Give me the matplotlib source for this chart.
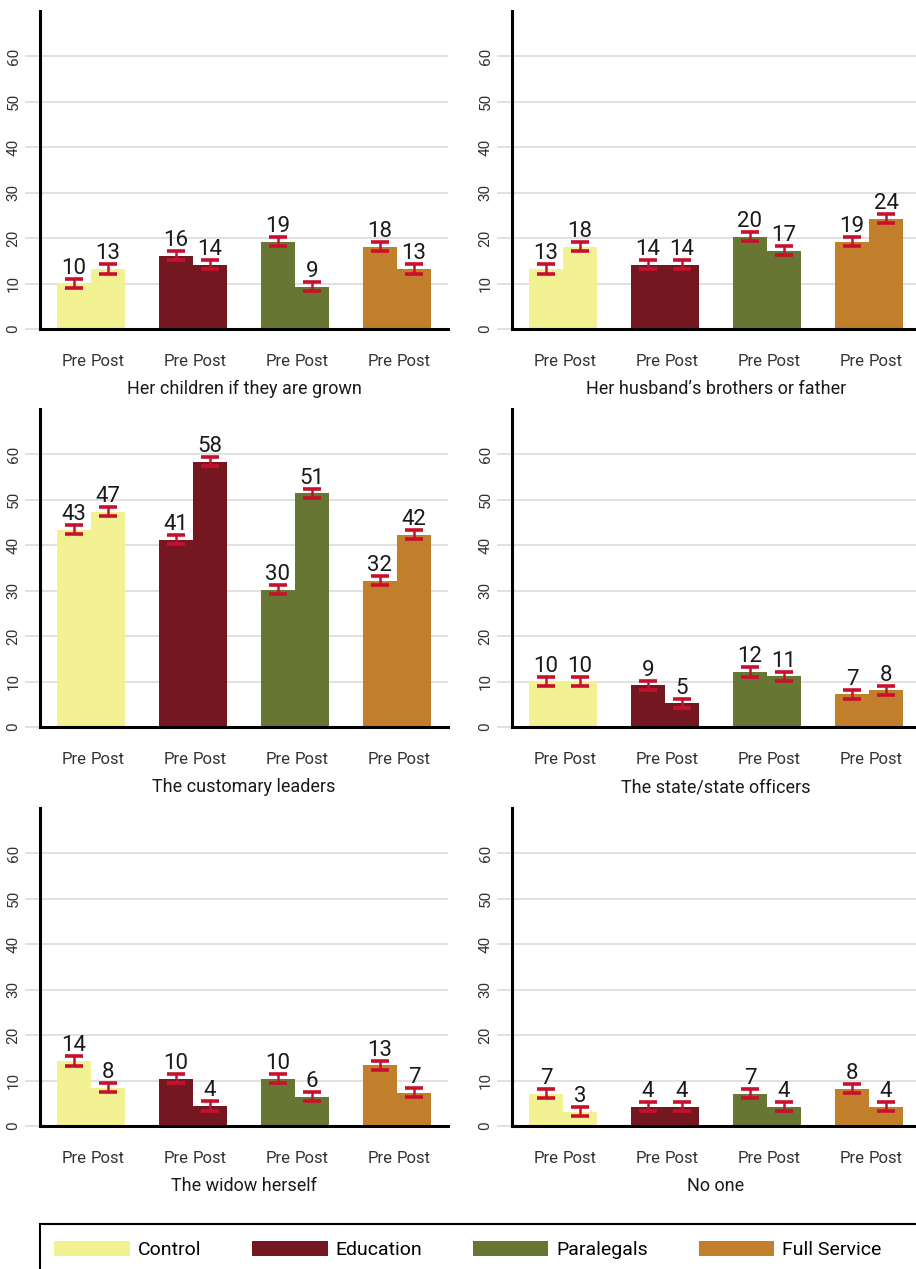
import matplotlib.pyplot as plt
from matplotlib.patches import Patch, Rectangle

plt.rcParams['font.family'] = ['Roboto', 'DejaVu Sans']

# Groups and colours
groups = ['Control', 'Education', 'Paralegals', 'Full Service']
colors = ['#f3f292', '#751721', '#687633', '#c17f2c']
phases = ['Pre', 'Post']

# Percent of respondents, pre and post, per group
children_pre = [10.1, 16.1, 19.2, 18.1]
children_post = [13.2, 14.1, 9.3, 13.2]
husband_pre = [13.2, 14.1, 20.3, 19.2]
husband_post = [18.1, 14.1, 17.2, 24.3]
leaders_pre = [43.4, 41.2, 30.2, 32.2]
leaders_post = [47.4, 58.4, 51.4, 42.3]
state_pre = [10.1, 9.2, 12.1, 7.2]
state_post = [10.1, 5.2, 11.2, 8.1]
widow_pre = [14.3, 10.4, 10.4, 13.4]
widow_post = [8.4, 4.4, 6.4, 7.3]
noone_pre = [7.1, 4.2, 7.1, 8.2]
noone_post = [3.1, 4.2, 4.2, 4.2]

# half-width of the confidence interval
ci = 1.0

panels = [
    ('Her children if they are grown', children_pre, children_post),
    ('Her husband\u2019s brothers or father', husband_pre, husband_post),
    ('The customary leaders', leaders_pre, leaders_post),
    ('The state/state officers', state_pre, state_post),
    ('The widow herself', widow_pre, widow_post),
    ('No one', noone_pre, noone_post),
]

yticks = [0, 10, 20, 30, 40, 50, 60]

W, H = 916, 1269
fig = plt.figure(figsize=(W / 100, H / 100), dpi=100)

col_left = [40, 512]
row_bottom = [329, 727, 1126]
ax_w, ax_h = 408, 318

bw = 1 / 3
for k, (title, pre, post) in enumerate(panels):
    r, c = divmod(k, 2)
    ax = fig.add_axes([col_left[c] / W, 1 - row_bottom[r] / H, ax_w / W, ax_h / H])
    xticks, xlabels = [], []
    for i, g in enumerate(groups):
        for j, vals in enumerate([pre, post]):
            x = i + (j - 0.5) * bw
            v = vals[i]
            ax.bar(x, v, width=bw, color=colors[i], linewidth=0, zorder=2)
            ax.errorbar(x, v, yerr=ci, fmt='none', ecolor='#c8102e',
                        elinewidth=1.8, capsize=6.5, capthick=2.6, zorder=3)
            ax.annotate(f'{v:.0f}', (x, v + ci), xytext=(0, 0),
                        textcoords='offset points', ha='center', va='bottom',
                        fontsize=16, color='#1a1a1a', zorder=4)
            xticks.append(x)
            xlabels.append(phases[j])

    ax.set_xlim(-0.5, 3.5)
    ax.set_ylim(0, 70)
    ax.set_yticks(yticks)
    ax.set_yticklabels([str(t) for t in yticks], rotation=90, va='center')
    ax.set_xticks(xticks)
    ax.set_xticklabels(xlabels)
    ax.tick_params(axis='y', length=11, width=1.1, color='#d9d9d9',
                   labelsize=11, labelcolor='#333333', pad=3)
    ax.tick_params(axis='x', length=0, labelsize=12, labelcolor='#333333', pad=18)
    ax.grid(axis='y', color='#d9d9d9', linewidth=1.1)
    ax.set_axisbelow(True)
    for s in ['top', 'right']:
        ax.spines[s].set_visible(False)
    for s in ['left', 'bottom']:
        ax.spines[s].set_linewidth(2.2)
        ax.spines[s].set_color('black')
        ax.spines[s].set_zorder(5)
    ax.set_xlabel(title, fontsize=13, color='#1a1a1a', labelpad=8)

# Legend box runs off the bottom/right edge
fig.add_artist(Rectangle((40 / W, -0.05), 1.0, 0.05 + 1 - 1224 / H,
                         transform=fig.transFigure, fill=False,
                         edgecolor='black', linewidth=1.5, clip_on=False))
handles = [Patch(facecolor=c, edgecolor='none') for c in colors]
fig.legend(handles, groups, loc='center left',
           bbox_to_anchor=(54 / W, 1 - 1250 / H), ncol=4, frameon=False,
           fontsize=14, handlelength=3.9, handleheight=0.85, handletextpad=0.4,
           columnspacing=2.6, borderpad=0, borderaxespad=0)

fig.savefig('out.png', dpi=100)
